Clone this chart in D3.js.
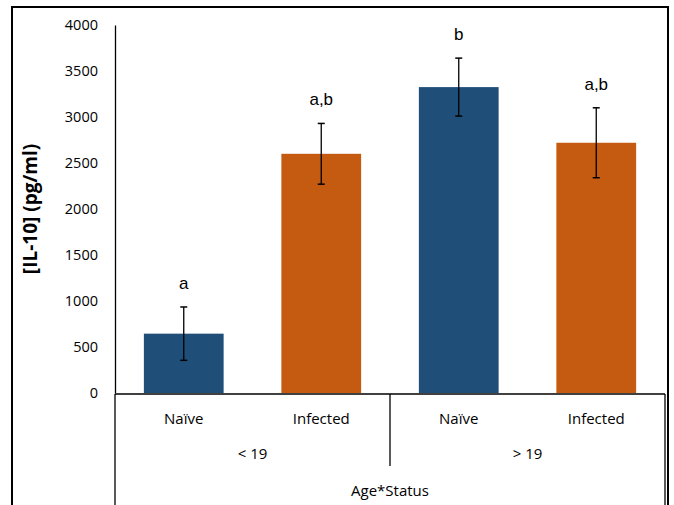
<!DOCTYPE html>
<html>
<head>
<meta charset="utf-8">
<script src="https://cdn.jsdelivr.net/npm/d3@7"></script>
<style>
  body { margin: 0; background: #fff; }
  svg { display: block; }
</style>
</head>
<body>
<div id="chart"></div>
<script>
// IL-10 by age group and infection status

const groups = ['< 19', '> 19'];
const statuses = ['Naïve', 'Infected'];
const categories = ['< 19|Naïve', '< 19|Infected', '> 19|Naïve', '> 19|Infected'];
const values = [645, 2600, 3325, 2720];
const errors = [290, 330, 315, 380];
const letters = ['a', 'a,b', 'b', 'a,b'];
const yTicks = [0, 500, 1000, 1500, 2000, 2500, 3000, 3500, 4000];

const colors = { 'Naïve': '#1f4e79', 'Infected': '#c55a11' };

const W = 674, H = 505;
const plot = { left: 115, right: 665, top: 25, bottom: 393 };

const svg = d3.select('#chart').append('svg')
  .attr('width', W)
  .attr('height', H);

// outer frame
svg.append('rect')
  .attr('x', 12).attr('y', 7)
  .attr('width', 656).attr('height', 510)
  .attr('fill', 'none')
  .attr('stroke', '#000')
  .attr('stroke-width', 2);

const x = d3.scaleBand()
  .domain(categories)
  .range([plot.left, plot.right])
  .paddingInner(0.42)
  .paddingOuter(0.21);

const y = d3.scaleLinear()
  .domain([0, 4000])
  .range([plot.bottom, plot.top]);

// y axis
const yAxis = svg.append('g')
  .attr('transform', `translate(${plot.left},0)`)
  .call(d3.axisLeft(y).tickValues(yTicks).tickFormat(d3.format('d')).tickSize(0).tickPadding(17));
yAxis.select('.domain').attr('stroke', '#000').attr('stroke-width', 1.3);
yAxis.selectAll('text')
  .attr('font-family', 'Open Sans, sans-serif')
  .attr('font-size', 14.5)
  .attr('fill', '#000');

svg.append('text')
  .attr('transform', `translate(32,${(plot.top + plot.bottom) / 2}) rotate(-90)`)
  .attr('text-anchor', 'middle')
  .attr('dominant-baseline', 'middle')
  .attr('font-family', 'Open Sans, sans-serif')
  .attr('font-weight', 'bold')
  .attr('font-size', 19)
  .text('[IL-10] (pg/ml)');

// bars
svg.selectAll('rect.bar')
  .data(categories)
  .join('rect')
  .attr('class', 'bar')
  .attr('x', d => x(d))
  .attr('width', x.bandwidth())
  .attr('y', (d, i) => y(values[i]))
  .attr('height', (d, i) => y(0) - y(values[i]))
  .attr('fill', d => colors[d.split('|')[1]]);

// error bars
const eb = svg.selectAll('g.err')
  .data(categories)
  .join('g')
  .attr('class', 'err');
eb.append('line')
  .attr('x1', d => x(d) + x.bandwidth() / 2)
  .attr('x2', d => x(d) + x.bandwidth() / 2)
  .attr('y1', (d, i) => y(values[i] - errors[i]))
  .attr('y2', (d, i) => y(values[i] + errors[i]))
  .attr('stroke', '#000').attr('stroke-width', 1.3);
[-1, 1].forEach(s => {
  eb.append('line')
    .attr('x1', d => x(d) + x.bandwidth() / 2 - 3.5)
    .attr('x2', d => x(d) + x.bandwidth() / 2 + 3.5)
    .attr('y1', (d, i) => y(values[i] + s * errors[i]))
    .attr('y2', (d, i) => y(values[i] + s * errors[i]))
    .attr('stroke', '#000').attr('stroke-width', 1.5);
});

// significance letters
svg.selectAll('text.letter')
  .data(categories)
  .join('text')
  .attr('class', 'letter')
  .attr('x', d => x(d) + x.bandwidth() / 2)
  .attr('y', (d, i) => y(values[i] + errors[i]) - 18)
  .attr('text-anchor', 'middle')
  .attr('font-family', 'Liberation Sans, Arial, sans-serif')
  .attr('font-size', 17)
  .text((d, i) => letters[i]);

// x axis line and group separators
svg.append('line')
  .attr('x1', plot.left).attr('x2', plot.right)
  .attr('y1', plot.bottom + 1).attr('y2', plot.bottom + 1)
  .attr('stroke', '#000').attr('stroke-width', 1.3);
[plot.left, plot.right].forEach(px => {
  svg.append('line')
    .attr('x1', px).attr('x2', px)
    .attr('y1', plot.bottom + 1).attr('y2', H)
    .attr('stroke', '#000').attr('stroke-width', 1.3);
});
const mid = (x(categories[1]) + x.bandwidth() + x(categories[2])) / 2;
svg.append('line')
  .attr('x1', mid).attr('x2', mid)
  .attr('y1', plot.bottom + 1).attr('y2', 466)
  .attr('stroke', '#000').attr('stroke-width', 1.3);

const labelFont = 'Open Sans, sans-serif';
svg.selectAll('text.cat')
  .data(categories)
  .join('text')
  .attr('class', 'cat')
  .attr('x', d => x(d) + x.bandwidth() / 2)
  .attr('y', 424)
  .attr('text-anchor', 'middle')
  .attr('font-family', labelFont)
  .attr('font-size', 15)
  .text(d => d.split('|')[1]);

svg.selectAll('text.grp')
  .data(groups)
  .join('text')
  .attr('class', 'grp')
  .attr('x', (g, i) => i === 0 ? (plot.left + mid) / 2 : (mid + plot.right) / 2)
  .attr('y', 459)
  .attr('text-anchor', 'middle')
  .attr('font-family', labelFont)
  .attr('font-size', 15)
  .text(g => g);

svg.append('text')
  .attr('x', (plot.left + plot.right) / 2)
  .attr('y', 496)
  .attr('text-anchor', 'middle')
  .attr('font-family', labelFont)
  .attr('font-size', 15)
  .text('Age*Status');
</script>
</body>
</html>
